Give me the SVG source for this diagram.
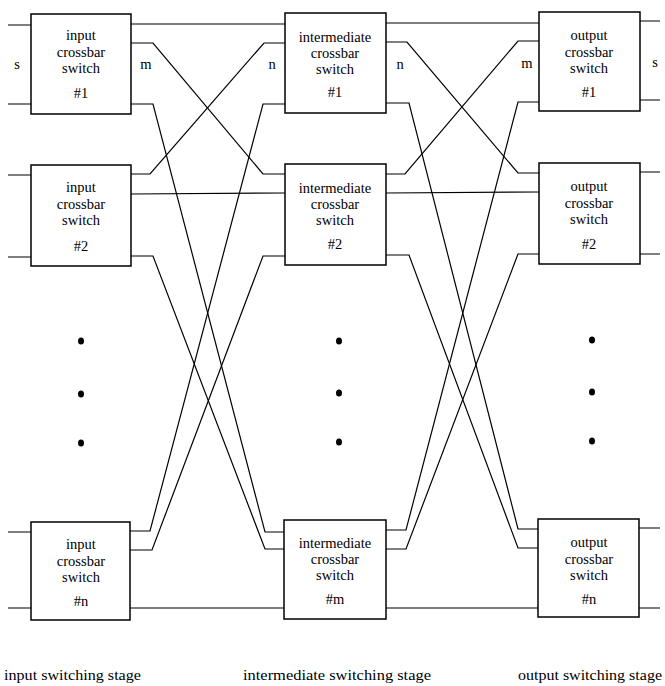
<svg xmlns="http://www.w3.org/2000/svg" width="665" height="686" viewBox="0 0 665 686">
<style>
.box{fill:#fff;stroke:#000;stroke-width:1.5}
.w{fill:none;stroke:#000;stroke-width:1.2}
.t{font-family:"Liberation Serif","DejaVu Serif",serif;font-size:14.5px;fill:#000;text-anchor:middle}
.l{font-family:"Liberation Serif","DejaVu Serif",serif;font-size:15px;fill:#000}
.dot{fill:#000}
</style>
<rect width="665" height="686" fill="#fff"/>
<g id="connectors" class="w">
<path d="M8,25 H31 M8,104 H31 M8,175 H31 M8,257 H31 M8,532 H31 M8,608 H31"/>
<path d="M640,21 H660 M640,100 H660 M640,172 H660 M640,254 H660 M639,528 H660 M639,608 H660"/>
<path d="M131,24 H285"/>
<path d="M131,43 H153 L263,174 H285"/>
<path d="M131,104 H153 L265,532 H284"/>
<path d="M131,174 H150 L264,43 H285"/>
<path d="M131,194 L285,193"/>
<path d="M131,256 H153 L265,549 H284"/>
<path d="M130,531 H150 L263,104 H285"/>
<path d="M130,550 H152 L263,256 H285"/>
<path d="M130,608 H284"/>
<path d="M386,23 H539"/>
<path d="M386,42 H407 L518,173 H539"/>
<path d="M386,103 H409 L518,529 H538"/>
<path d="M386,174 H405 L518,41 H539"/>
<path d="M386,193 L539,192"/>
<path d="M386,255 H409 L518,548 H538"/>
<path d="M386,530 H406 L518,102 H539"/>
<path d="M386,549 H406 L518,254 H539"/>
<path d="M386,608 H538"/>
</g>
<g id="in1"><rect class="box" x="31" y="14" width="100" height="100"/>
<text class="t" x="81" y="40">input</text><text class="t" x="81" y="57">crossbar</text><text class="t" x="81" y="73">switch</text><text class="t" x="81" y="98">#1</text></g>
<g id="in2"><rect class="box" x="31" y="165" width="100" height="101"/>
<text class="t" x="81" y="192">input</text><text class="t" x="81" y="209">crossbar</text><text class="t" x="81" y="225">switch</text><text class="t" x="81" y="251">#2</text></g>
<g id="inN"><rect class="box" x="31" y="522" width="99" height="98"/>
<text class="t" x="81" y="549">input</text><text class="t" x="81" y="566">crossbar</text><text class="t" x="81" y="582">switch</text><text class="t" x="81" y="606">#n</text></g>
<g id="int1"><rect class="box" x="285" y="13" width="101" height="100"/>
<text class="t" x="335" y="42">intermediate</text><text class="t" x="335" y="58">crossbar</text><text class="t" x="335" y="74">switch</text><text class="t" x="335" y="97">#1</text></g>
<g id="int2"><rect class="box" x="285" y="164" width="101" height="101"/>
<text class="t" x="335" y="193">intermediate</text><text class="t" x="335" y="209">crossbar</text><text class="t" x="335" y="225">switch</text><text class="t" x="335" y="249">#2</text></g>
<g id="intM"><rect class="box" x="284" y="520" width="102" height="99"/>
<text class="t" x="335" y="548">intermediate</text><text class="t" x="335" y="564">crossbar</text><text class="t" x="335" y="580">switch</text><text class="t" x="335" y="604">#m</text></g>
<g id="out1"><rect class="box" x="539" y="12" width="101" height="99"/>
<text class="t" x="589" y="40">output</text><text class="t" x="589" y="57">crossbar</text><text class="t" x="589" y="73">switch</text><text class="t" x="589" y="97">#1</text></g>
<g id="out2"><rect class="box" x="539" y="163" width="101" height="101"/>
<text class="t" x="589" y="191">output</text><text class="t" x="589" y="208">crossbar</text><text class="t" x="589" y="224">switch</text><text class="t" x="589" y="249">#2</text></g>
<g id="outN"><rect class="box" x="538" y="519" width="101" height="98"/>
<text class="t" x="589" y="547">output</text><text class="t" x="589" y="564">crossbar</text><text class="t" x="589" y="580">switch</text><text class="t" x="589" y="604">#n</text></g>
<g id="labels">
<text class="t" x="17" y="69">s</text><text class="t" x="146" y="69">m</text>
<text class="t" x="272" y="69">n</text><text class="t" x="400" y="69">n</text>
<text class="t" x="527" y="68">m</text><text class="t" x="655" y="67">s</text>
<text class="l" x="4" y="680" textLength="137" lengthAdjust="spacingAndGlyphs">input switching stage</text>
<text class="l" x="243" y="680" textLength="188" lengthAdjust="spacingAndGlyphs">intermediate switching stage</text>
<text class="l" x="518" y="680" textLength="144" lengthAdjust="spacingAndGlyphs">output switching stage</text>
</g>
<g id="dots" class="dot">
<ellipse cx="81" cy="341" rx="3" ry="3.5"/><ellipse cx="81" cy="394" rx="3" ry="3.5"/><ellipse cx="81" cy="443" rx="3" ry="3.5"/>
<ellipse cx="339" cy="341" rx="3" ry="3.5"/><ellipse cx="339" cy="393" rx="3" ry="3.5"/><ellipse cx="339" cy="442" rx="3" ry="3.5"/>
<ellipse cx="592" cy="340" rx="3" ry="3.5"/><ellipse cx="592" cy="392" rx="3" ry="3.5"/><ellipse cx="592" cy="441" rx="3" ry="3.5"/>
</g>
</svg>
